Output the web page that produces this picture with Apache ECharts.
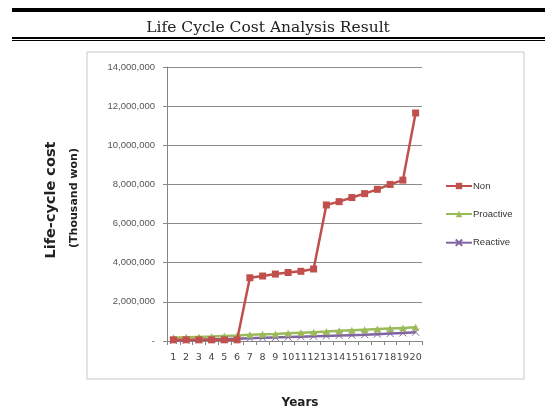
<!DOCTYPE html>
<html>
<head>
<meta charset="utf-8">
<script src="https://cdn.jsdelivr.net/npm/echarts@6/dist/echarts.min.js"></script>
<style>
  html, body { margin: 0; padding: 0; background: #fff; }
  #chart { width: 545px; height: 413px; }
</style>
</head>
<body>
<div id="chart"></div>
<script>
// years on the x axis
const years = ['1','2','3','4','5','6','7','8','9','10','11','12','13','14','15','16','17','18','19','20'];

// life-cycle cost, thousand won
const nonValues = [60000, 60000, 60000, 60000, 60000, 60000, 3230000, 3320000, 3420000, 3500000, 3560000, 3680000,
    6950000, 7120000, 7330000, 7530000, 7750000, 8000000, 8220000, 11650000];
const proactiveValues = [160000, 190000, 210000, 230000, 260000, 280000, 320000, 340000, 360000, 390000, 420000, 450000,
    480000, 520000, 550000, 580000, 610000, 640000, 670000, 700000];
const reactiveValues = [20000, 40000, 60000, 80000, 100000, 120000, 140000, 160000, 180000, 200000, 220000, 240000,
    260000, 280000, 300000, 320000, 350000, 380000, 410000, 450000];

const seriesNames = ['Non', 'Proactive', 'Reactive'];

let myChart = echarts.init(document.getElementById('chart'));

let option = {
    animation: false,
    title: {
        text: 'Life Cycle Cost Analysis Result',
        left: 263,
        textAlign: 'center',
        top: 15,
        textStyle: {
            fontFamily: 'DejaVu Serif',
            fontWeight: 'normal',
            fontSize: 15.5,
            color: '#222'
        }
    },
    graphic: [
        // heavy rule above the title
        { type: 'rect', shape: { x: 12, y: 8, width: 533, height: 4 }, style: { fill: '#000' } },
        // double rule below the title
        { type: 'rect', shape: { x: 12, y: 37, width: 533, height: 2 }, style: { fill: '#000' } },
        { type: 'rect', shape: { x: 12, y: 40, width: 533, height: 1 }, style: { fill: '#000' } },
        // chart frame
        { type: 'rect', shape: { x: 87, y: 52, width: 437, height: 327 }, style: { fill: 'none', stroke: '#c8c8c8', lineWidth: 1 } },
        // y axis titles
        {
            type: 'text', x: 51, y: 200, rotation: Math.PI / 2,
            style: { text: 'Life-cycle cost', fontSize: 14.5, fontWeight: 'bold', fontFamily: 'DejaVu Sans', fill: '#222', align: 'center', verticalAlign: 'middle' }
        },
        {
            type: 'text', x: 74, y: 198, rotation: Math.PI / 2,
            style: { text: '(Thousand won)', fontSize: 11, fontWeight: 'bold', fontFamily: 'DejaVu Sans', fill: '#222', align: 'center', verticalAlign: 'middle' }
        },
        // x axis title
        {
            type: 'text', x: 300, y: 403,
            style: { text: 'Years', fontSize: 12, fontWeight: 'bold', fontFamily: 'DejaVu Sans', fill: '#222', align: 'center', verticalAlign: 'middle' }
        }
    ],
    legend: {
        orient: 'vertical',
        left: 440,
        top: 176,
        itemGap: 18,
        itemWidth: 26,
        itemHeight: 8,
        data: seriesNames,
        textStyle: { fontSize: 9.5, color: '#333', padding: [0, 0, 0, -4] }
    },
    grid: {
        left: 167,
        top: 67,
        width: 255,
        height: 274
    },
    xAxis: {
        type: 'category',
        data: years,
        boundaryGap: true,
        axisLine: { lineStyle: { color: '#868686' } },
        axisTick: { show: true, alignWithLabel: false, length: 4, lineStyle: { color: '#868686' } },
        axisLabel: { interval: 0, fontSize: 9.5, color: '#444', margin: 12, fontFamily: 'DejaVu Sans' }
    },
    yAxis: {
        type: 'value',
        min: 0,
        max: 14000000,
        interval: 2000000,
        axisLine: { show: true, lineStyle: { color: '#868686' } },
        axisTick: { show: true, length: 4, lineStyle: { color: '#868686' } },
        splitLine: { lineStyle: { color: '#8c8c8c', width: 1 } },
        axisLabel: {
            fontSize: 9.5,
            color: '#555',
            margin: 12,
            formatter: function (v) {
                return v === 0 ? '-' : v.toLocaleString('en-US');
            }
        }
    },
    series: [
        {
            name: seriesNames[0],
            type: 'line',
            data: nonValues,
            symbol: 'rect',
            symbolSize: 7,
            z: 3,
            lineStyle: { color: '#c0504d', width: 2.5 },
            itemStyle: { color: '#c0504d' }
        },
        {
            name: seriesNames[1],
            type: 'line',
            data: proactiveValues,
            symbol: 'triangle',
            symbolSize: 7,
            z: 2,
            lineStyle: { color: '#9bbb59', width: 2.5 },
            itemStyle: { color: '#9bbb59' }
        },
        {
            name: seriesNames[2],
            type: 'line',
            data: reactiveValues,
            symbol: 'path://M0,0L10,10M10,0L0,10',
            symbolSize: 7,
            z: 1,
            lineStyle: { color: '#8064a2', width: 2.5 },
            itemStyle: { color: 'none', borderColor: '#8064a2', borderWidth: 1 }
        }
    ]
};

myChart.setOption(option);
</script>
</body>
</html>
